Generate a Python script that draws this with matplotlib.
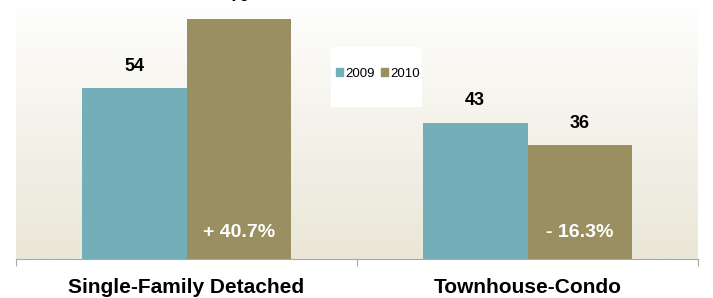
import matplotlib.pyplot as plt
import numpy as np
from matplotlib.patches import Rectangle, Patch

plt.rcParams['font.family'] = ['Liberation Sans', 'DejaVu Sans']

categories = ['Single-Family Detached', 'Townhouse-Condo']
years = ['2009', '2010']
vals_2009 = [54, 43]
vals_2010 = [76, 36]
pct_change = ['+ 40.7%', '- 16.3%']

c2009 = '#74AEB8'
c2010 = '#9A8F60'

fig = plt.figure(figsize=(7.13, 2.98), dpi=100)
ax = fig.add_axes([16/713, 39/298, 682/713, 259/298])

x = np.arange(len(categories))
w = 0.307

ax.set_xlim(-0.5, 1.5)
ax.set_ylim(0, 81.9)

# gradient background of the plot area
grad = np.linspace(0, 1, 256).reshape(-1, 1)
top = np.array([1.0, 1.0, 1.0])
bot = np.array([0xEA, 0xE7, 0xD8]) / 255
img = top + (bot - top) * grad[..., None] ** 0.9
ax.imshow(img, extent=[-0.5, 1.5, 0, 81.9], aspect='auto', origin='upper', zorder=0)

b1 = ax.bar(x - w/2, vals_2009, w, color=c2009, zorder=2)
b2 = ax.bar(x + w/2, vals_2010, w, color=c2010, zorder=2)

for i in range(len(categories)):
    ax.text(x[i] - w/2, vals_2009[i] + 7, str(vals_2009[i]), ha='center', va='center',
            fontsize=13, fontweight='bold', clip_on=False)
    ax.text(x[i] + w/2, vals_2010[i] + 7, str(vals_2010[i]), ha='center', va='center',
            fontsize=13, fontweight='bold', clip_on=False)
    ax.text(x[i] + w/2, 8.4, pct_change[i], ha='center', va='center',
            fontsize=14, fontweight='bold', color='white', zorder=3)
    ax.text(x[i], -0.11, categories[i], ha='center', va='center', fontsize=15,
            fontweight='bold', transform=ax.get_xaxis_transform())

for s in ['top', 'left', 'right']:
    ax.spines[s].set_visible(False)
ax.spines['bottom'].set_color('#A8A8A8')
ax.spines['bottom'].set_zorder(4)
ax.set_yticks([])
ax.set_xticks([-0.5, 0.5, 1.5])
ax.set_xticklabels([])
ax.tick_params(axis='x', length=5, color='#A8A8A8')

# legend box
fig.patches.append(Rectangle((331/713, 1 - 107/298), 91/713, 60/298,
                             transform=fig.transFigure, facecolor='white',
                             edgecolor='none', zorder=5))
handles = [Patch(color=c2009), Patch(color=c2010)]
fig.legend(handles, years, loc='center', bbox_to_anchor=(378/713, 1 - 74/298),
           ncol=2, frameon=False, fontsize=9.5, handlelength=0.55, handleheight=0.55,
           handletextpad=0.2, columnspacing=0.4)

fig.savefig('out.png', dpi=100)
